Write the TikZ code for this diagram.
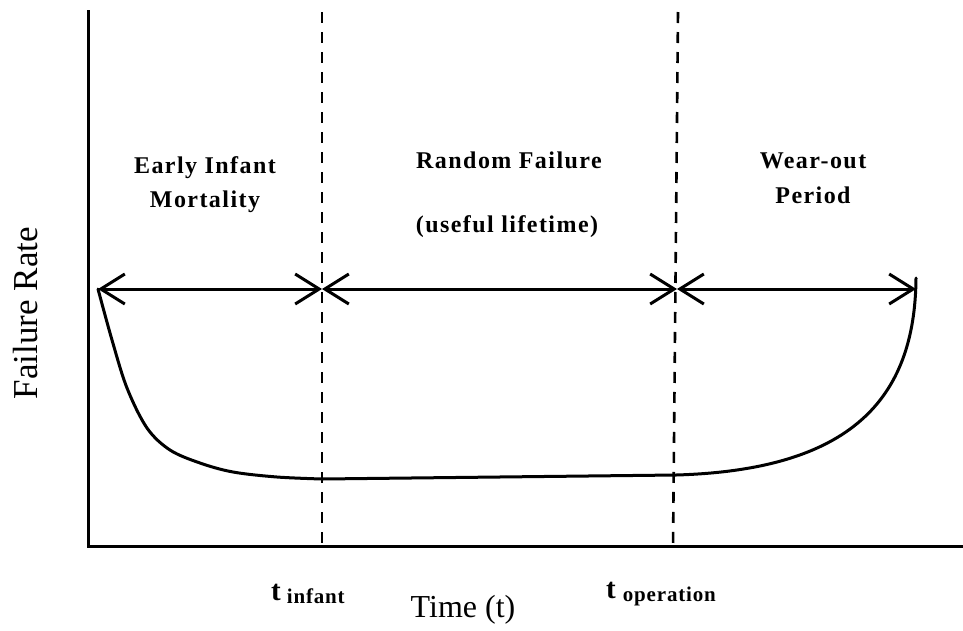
\documentclass[tikz,border=0pt]{standalone}
\usepackage{fontspec}
\setmainfont{Liberation Serif}
\newfontfamily\spacedserif[LetterSpace=6]{Liberation Serif}
\newfontfamily\subserif[LetterSpace=4]{Liberation Serif}
\usetikzlibrary{arrows.meta}
\begin{document}
\begin{tikzpicture}[x=1pt,y=-1pt,
  axisline/.style={line width=3pt},
  divider/.style={line width=2.6pt, dash pattern=on 11pt off 9pt},
  span/.style={line width=3pt, {Straight Barb[length=24pt,width=30pt]}-{Straight Barb[length=24pt,width=30pt]}},
  curveline/.style={line width=3pt, line join=round, line cap=round},
  head/.style={font=\spacedserif\fontsize{24}{28}\selectfont\bfseries, inner sep=0pt, anchor=base},
  tlabel/.style={font=\fontsize{29}{32}\selectfont\bfseries, inner sep=0pt, anchor=base west},
  axislabel/.style={font=\fontsize{32}{36}\selectfont, inner sep=0pt}]
\useasboundingbox (0,0) rectangle (963,630);

% axes
\coordinate (ytop) at (88,10);
\coordinate (origin) at (88,546);
\coordinate (xend) at (963,546);
\draw[axisline] (ytop) -- (origin) -- (xend);

% phase boundaries
\coordinate (d1top) at (322,12);
\coordinate (d1bot) at (322,550);
\coordinate (d2top) at (678,12);
\coordinate (d2bot) at (673,548);
\draw[divider] (d1top) -- (d1bot);
\draw[divider] (d2top) -- (d2bot);

% phase spans
\coordinate (p0) at (98,289);
\coordinate (p1) at (322,289);
\coordinate (p2) at (677,289);
\coordinate (p3) at (916,289);
\draw[span] (p0) -- (p1);
\draw[span] (p1) -- (p2);
\draw[span] (p2) -- (p3);

% bathtub curve: steep early drop, flat useful life, steep wear-out rise
\draw[curveline] plot[smooth, tension=0.55] coordinates {
  (98,289) (112,340) (127,388) (147,428) (170,450) (200,463) (233,472)
  (277,477) (322,479)}
  -- (676,475) .. controls (850,470) and (915,400) .. (916,278);

% phase headings
\node[head] (early1) at (205,173) {Early Infant};
\node[head] (early2) at (205,207) {Mortality};
\node[head] (random) at (509,168) {Random Failure};
\node[head] (useful) at (507,232) {(useful lifetime)};
\node[head] (wear1) at (813,168) {Wear-out};
\node[head] (wear2) at (813,203) {Period};

% time marks
\node[tlabel] (tinf) at (271,600) {t\hspace{6pt}{\subserif\bfseries\fontsize{21}{24}\selectfont\raisebox{-3pt}{infant}}};
\node[tlabel] (top) at (606,598) {t\hspace{7pt}{\subserif\bfseries\fontsize{21}{24}\selectfont\raisebox{-3pt}{operation}}};

% axis labels
\node[axislabel, anchor=base] (xlab) at (463,617) {Time (t)};
\node[axislabel, font=\fontsize{35}{38}\selectfont, rotate=90] (ylab) at (26,313) {Failure Rate};
\end{tikzpicture}
\end{document}
